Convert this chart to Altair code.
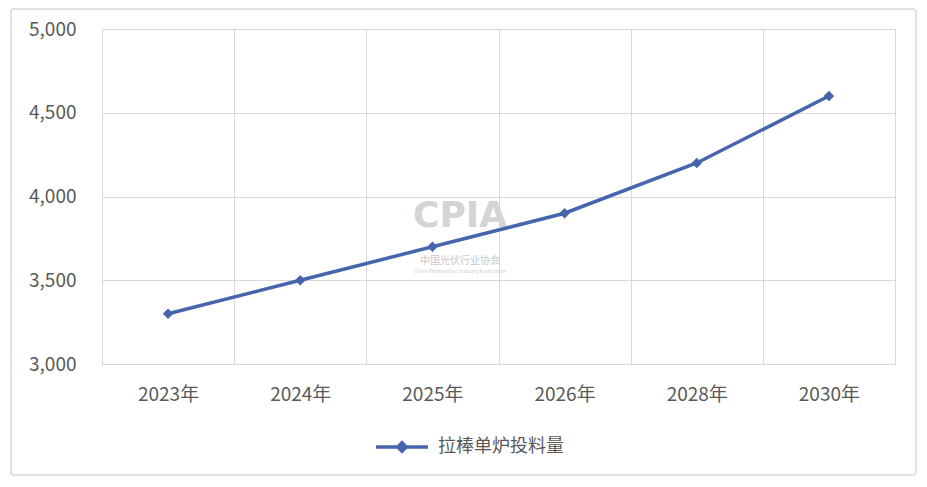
import altair as alt
import pandas as pd

years = ["2023年", "2024年", "2025年", "2026年", "2028年", "2030年"]
values = [3300, 3500, 3700, 3900, 4200, 4600]
series = ["拉棒单炉投料量"] * len(years)
y_ticks = [3000, 3500, 4000, 4500, 5000]

df = pd.DataFrame({"year": years, "value": values, "series": series})

COLOR = "#4565ad"
FONT = "Noto Sans CJK SC"
GRID = "#d9d9d9"
TXT = "#595959"

base = alt.Chart(df)

x_enc = alt.X("year:N", sort=years, title=None,
              scale=alt.Scale(paddingInner=0, paddingOuter=0),
              axis=alt.Axis(grid=True, tickBand="extent", ticks=False, domain=False,
                            labelAngle=0, labelFontSize=19, labelColor=TXT,
                            labelPadding=21, labelFont=FONT, gridColor=GRID))
y_enc = alt.Y("value:Q", title=None,
              scale=alt.Scale(domain=[3000, 5000]),
              axis=alt.Axis(values=y_ticks, format=",.0f", ticks=False, domain=False,
                            labelFontSize=19, labelColor=TXT, labelPadding=26,
                            labelFont=FONT, gridColor=GRID))

legend_path = "M-1,0L1,0M0,-0.16L0.16,0L0,0.16L-0.16,0Z"

line = base.mark_line(strokeWidth=3.5).encode(
    x=x_enc, y=y_enc,
    color=alt.Color("series:N", title=None,
                    scale=alt.Scale(range=[COLOR]),
                    legend=alt.Legend(orient="none", legendX=272, legendY=390,
                                      symbolType=legend_path, symbolSize=2704,
                                      symbolStrokeWidth=3.5, symbolFillColor=COLOR,
                                      symbolStrokeColor=COLOR,
                                      labelFontSize=18, labelColor=TXT, labelFont=FONT,
                                      labelOffset=8)),
)
pts = base.mark_point(shape="diamond", filled=True, size=110, opacity=1, color=COLOR).encode(
    x=alt.X("year:N", sort=years), y="value:Q")

deco = alt.Data(values=[{"a": 1}])
border = alt.Chart(deco).mark_rect(fill="transparent", stroke=GRID, strokeWidth=1.5,
                                   cornerRadius=3).encode(
    x=alt.value(-91), x2=alt.value(814), y=alt.value(-20), y2=alt.value(446))
wm1 = alt.Chart(deco).mark_text(text="CPIA", font="DejaVu Sans", fontWeight="bold",
                                fontSize=36, color="#d4d4d4").encode(
    x=alt.value(358), y=alt.value(187))
wm2 = alt.Chart(deco).mark_text(text="中国光伏行业协会", font=FONT,
                                fontSize=10, color="#c8c8c8").encode(
    x=alt.value(358), y=alt.value(232))
wm3 = alt.Chart(deco).mark_text(text="China Photovoltaic Industry Association", font=FONT,
                                fontSize=5, color="#d0d0d0").encode(
    x=alt.value(358), y=alt.value(242))

chart = alt.layer(border, wm1, wm2, wm3, line, pts).properties(
    width=793, height=335,
    autosize=alt.AutoSizeParams(type="none"),
    padding={"left": 94, "top": 21, "right": 23, "bottom": 113},
).configure_view(stroke=GRID).configure(background="white")

chart.save("out.html", embed_options={"renderer": "svg", "actions": False})
